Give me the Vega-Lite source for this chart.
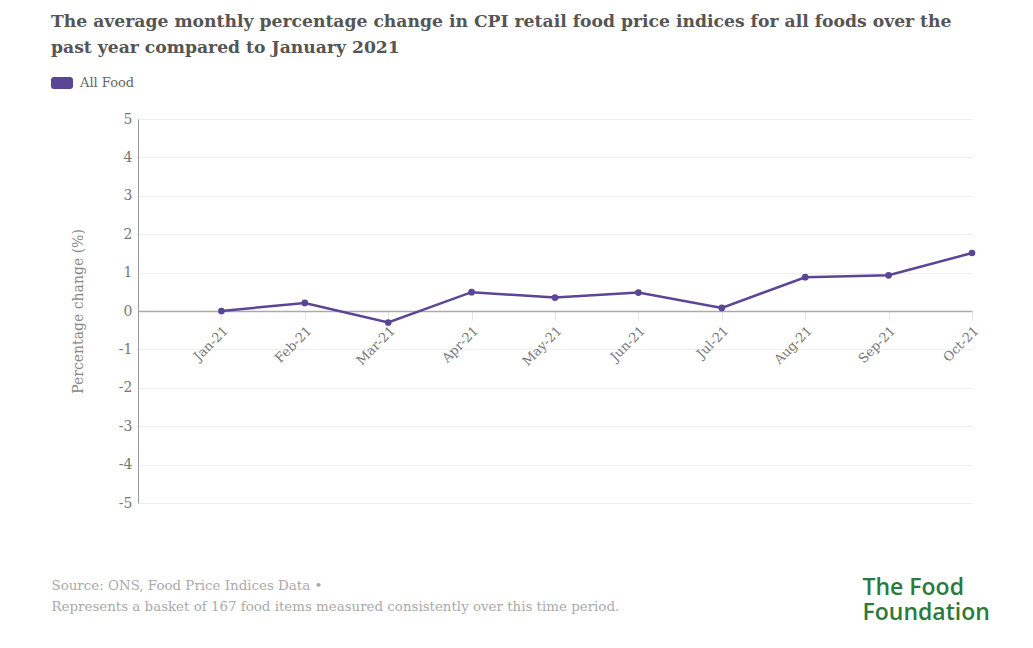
{
  "$schema": "https://vega.github.io/schema/vega-lite/v6.json",
  "width": 834,
  "height": 384,
  "autosize": "none",
  "padding": {"left": 138, "top": 119, "right": 61, "bottom": 145},
  "background": "white",
  "title": {
    "text": ["The average monthly percentage change in CPI retail food price indices for all foods over the", "past year compared to January 2021"],
    "anchor": "start",
    "frame": "group",
    "dx": -87,
    "offset": 16,
    "font": "DejaVu Serif",
    "fontSize": 17.2,
    "fontWeight": "bold",
    "color": "#555555",
    "lineHeight": 26
  },
  "data": {
    "values": [
      {"month": "Jan-21", "change": 0, "series": "All Food"},
      {"month": "Feb-21", "change": 0.21, "series": "All Food"},
      {"month": "Mar-21", "change": -0.3, "series": "All Food"},
      {"month": "Apr-21", "change": 0.49, "series": "All Food"},
      {"month": "May-21", "change": 0.35, "series": "All Food"},
      {"month": "Jun-21", "change": 0.48, "series": "All Food"},
      {"month": "Jul-21", "change": 0.08, "series": "All Food"},
      {"month": "Aug-21", "change": 0.88, "series": "All Food"},
      {"month": "Sep-21", "change": 0.93, "series": "All Food"},
      {"month": "Oct-21", "change": 1.51, "series": "All Food"}
    ]
  },
  "encoding": {
    "x": {
      "field": "month",
      "type": "ordinal",
      "sort": null,
      "scale": {"type": "point", "padding": 0, "domain": [" ", "Jan-21", "Feb-21", "Mar-21", "Apr-21", "May-21", "Jun-21", "Jul-21", "Aug-21", "Sep-21", "Oct-21"]},
      "axis": {
        "offset": -192,
        "labelAngle": -45,
        "labelFont": "DejaVu Serif",
        "labelFontSize": 13,
        "labelColor": "#777777",
        "labelPadding": 4,
        "domainColor": "#aaaaaa",
        "domainWidth": 1.5,
        "tickColor": "#e6e6e6",
        "tickSize": 9,
        "grid": false,
        "title": ["Source: ONS, Food Price Indices Data •", "Represents a basket of 167 food items measured consistently over this time period."],
        "titleX": -87,
        "titleY": 278,
        "titleAlign": "left",
        "titleBaseline": "alphabetic",
        "titleFont": "DejaVu Serif",
        "titleFontSize": 13.4,
        "titleFontWeight": "normal",
        "titleColor": "#aaaaaa",
        "titleLineHeight": 21
      }
    }
  },
  "layer": [
    {
      "mark": {"type": "line", "color": "#5b4596", "strokeWidth": 2.5},
      "encoding": {
        "y": {
          "field": "change",
          "type": "quantitative",
          "scale": {"domain": [-5, 5]},
          "axis": {
            "orient": "right",
            "labels": false,
            "ticks": false,
            "domain": false,
            "grid": false,
            "title": ["The Food", "Foundation"],
            "titleAngle": 0,
            "titleX": -110,
            "titleY": 475,
            "titleAlign": "left",
            "titleBaseline": "alphabetic",
            "titleFont": "Open Sans",
            "titleFontSize": 23,
            "titleFontWeight": 600,
            "titleColor": "#2b7a3c",
            "titleLineHeight": 25
          }
        }
      }
    },
    {
      "mark": {"type": "point", "filled": true, "size": 45, "opacity": 1},
      "encoding": {
        "y": {
          "field": "change",
          "type": "quantitative",
          "scale": {"domain": [-5, 5]},
          "axis": {
            "orient": "left",
            "values": [-5, -4, -3, -2, -1, 0, 1, 2, 3, 4, 5],
            "labelExpr": "toString(datum.value)",
            "grid": true,
            "gridColor": "#eeeeee",
            "ticks": false,
            "domainColor": "#999999",
            "labelFont": "DejaVu Serif",
            "labelFontSize": 14,
            "labelColor": "#777777",
            "labelPadding": 6,
            "title": "Percentage change (%)",
            "titleFont": "DejaVu Serif",
            "titleFontSize": 14,
            "titleFontWeight": "normal",
            "titleColor": "#888888",
            "titlePadding": 33
          }
        },
        "color": {
          "field": "series",
          "type": "nominal",
          "scale": {"range": ["#5b4596"]},
          "legend": {
            "title": null,
            "orient": "none",
            "legendX": -87,
            "legendY": -47,
            "symbolType": "M-0.75,-0.55 L0.75,-0.55 A0.25,0.25 0 0 1 1,-0.3 L1,0.3 A0.25,0.25 0 0 1 0.75,0.55 L-0.75,0.55 A0.25,0.25 0 0 1 -1,0.3 L-1,-0.3 A0.25,0.25 0 0 1 -0.75,-0.55 Z",
            "symbolSize": 484,
            "symbolStrokeWidth": 0,
            "labelFont": "DejaVu Serif",
            "labelFontSize": 13,
            "labelColor": "#666666",
            "labelOffset": 7
          }
        }
      }
    }
  ],
  "resolve": {"scale": {"y": "independent"}},
  "config": {"view": {"stroke": null}}
}
